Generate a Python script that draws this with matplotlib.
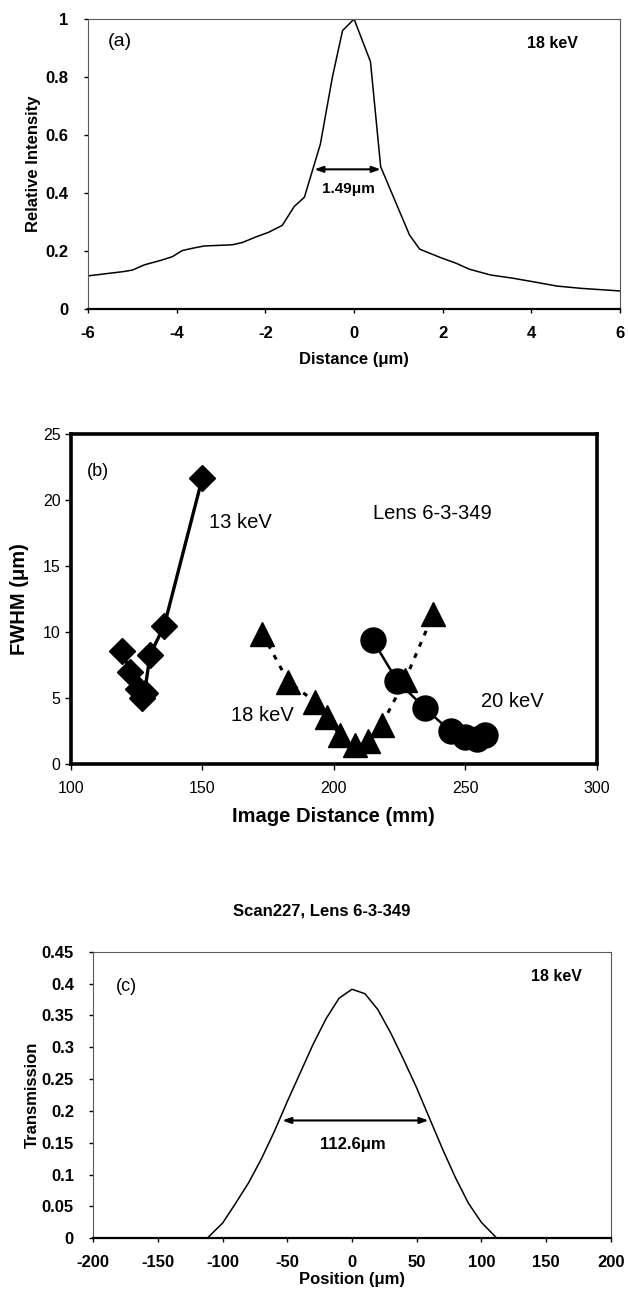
import numpy as np
import matplotlib; matplotlib.use("Agg")
import matplotlib.pyplot as plt

plt.rcParams["font.family"] = ["Liberation Sans", "DejaVu Sans"]
plt.rcParams["axes.unicode_minus"] = False

# (a) spot profile at 18 keV
a_x = [-6, -5.19, -5.0, -4.73, -4.37, -4.1, -3.88, -3.65, -3.38, -2.75, -2.52, -2.2, -1.93, -1.62,
       -1.35, -1.12, -0.76, -0.49, -0.26, 0.0, 0.37, 0.6, 1.25, 1.48, 1.95, 2.31, 2.6, 3.08, 3.58,
       4.03, 4.57, 5.12, 6.0]
a_y = [0.115, 0.13, 0.135, 0.153, 0.168, 0.181, 0.202, 0.21, 0.218, 0.222, 0.23, 0.25, 0.265, 0.289,
       0.354, 0.386, 0.569, 0.799, 0.96, 1.0, 0.853, 0.491, 0.256, 0.207, 0.178, 0.158, 0.138, 0.118,
       0.107, 0.095, 0.08, 0.072, 0.063]
a_xticks = [-6, -4, -2, 0, 2, 4, 6]
a_yticks = [0, 0.2, 0.4, 0.6, 0.8, 1]
a_ylabels = ["0", "0.2", "0.4", "0.6", "0.8", "1"]

# (b) FWHM vs image distance
k13_x = [119.5, 122.5, 125.5, 127.0, 128.0, 130.1, 135.5, 150.0]
k13_y = [8.6, 7.0, 5.7, 5.0, 5.4, 8.3, 10.5, 21.7]
k18_x = [172.8, 182.7, 192.9, 197.3, 202.4, 208.1, 213.1, 218.2, 227.1, 237.9]
k18_y = [9.9, 6.26, 4.74, 3.6, 2.2, 1.5, 1.8, 3.0, 6.4, 11.4]
k20_x = [214.8, 224.2, 234.7, 244.4, 249.8, 254.3, 257.4]
k20_y = [9.4, 6.3, 4.24, 2.5, 2.1, 1.95, 2.25]
b_xticks = [100, 150, 200, 250, 300]
b_yticks = [0, 5, 10, 15, 20, 25]

# (c) transmission scan
c_x = [-200, -112, -100, -90, -80, -70, -60, -50, -40, -30, -20, -10, 0,
       10, 20, 30, 40, 50, 60, 70, 80, 90, 100, 112, 200]
c_y = [0, 0, 0.024, 0.055, 0.087, 0.125, 0.168, 0.215, 0.26, 0.305, 0.345, 0.377, 0.391,
       0.384, 0.359, 0.322, 0.28, 0.236, 0.188, 0.14, 0.095, 0.055, 0.025, 0, 0]
c_xticks = [-200, -150, -100, -50, 0, 50, 100, 150, 200]
c_yticks = [0, 0.05, 0.1, 0.15, 0.2, 0.25, 0.3, 0.35, 0.4, 0.45]
c_ylabels = ["0", "0.05", "0.1", "0.15", "0.2", "0.25", "0.3", "0.35", "0.4", "0.45"]

fig = plt.figure(figsize=(6.28, 13.01), dpi=100)

def thin_frame(ax):
    for s in ("top", "right", "left"):
        ax.spines[s].set_linewidth(0.8); ax.spines[s].set_color("0.35")
    ax.spines["bottom"].set_linewidth(1.6); ax.spines["bottom"].set_color("black")
    ax.tick_params(direction="out", length=3, width=1, labelsize=12)
    ax.tick_params(axis="x", pad=9)
    ax.tick_params(axis="y", pad=11)
    for t in ax.get_xticklabels() + ax.get_yticklabels(): t.set_fontweight("bold")

# ---- (a)
ax = fig.add_axes([0.1403, 0.7623, 0.847, 0.2231])
ax.plot(a_x, a_y, color="black", lw=1.1)
ax.set_xlim(-6, 6); ax.set_ylim(0, 1)
ax.set_xticks(a_xticks); ax.set_xticklabels([str(v) for v in a_xticks])
ax.set_yticks(a_yticks); ax.set_yticklabels(a_ylabels)
thin_frame(ax)
ax.set_xlabel("Distance (\u03bcm)", fontsize=12, fontweight="bold")
ax.set_ylabel("Relative Intensity", fontsize=12, fontweight="bold")
ax.xaxis.set_label_coords(0.5, -0.172); ax.xaxis.label.set_va("center")
ax.yaxis.set_label_coords(-0.102, 0.5); ax.yaxis.label.set_va("center")
ax.annotate("", xy=(-0.895, 0.482), xytext=(0.6, 0.482),
            arrowprops=dict(arrowstyle="<|-|>,head_length=0.5,head_width=0.18", color="black", lw=1.5, shrinkA=0, shrinkB=0))
ax.text(-0.13, 0.413, "1.49\u03bcm", fontsize=11, fontweight="bold", ha="center", va="center")
ax.text(-5.28, 0.922, "(a)", fontsize=14, ha="center", va="center")
ax.text(4.48, 0.916, "18 keV", fontsize=11.5, fontweight="bold", ha="center", va="center")

# ---- (b)
ax = fig.add_axes([0.1129, 0.4125, 0.8373, 0.2537])
ax.plot(k13_x, k13_y, color="black", lw=2.4, marker="D", ms=13, zorder=3)
ax.plot(k18_x, k18_y, color="black", lw=2.2, dashes=(1.6, 2.4), marker="^", ms=17, zorder=3)
ax.plot(k20_x, k20_y, color="black", lw=1.8, marker="o", ms=18, zorder=3)
ax.set_xlim(100, 300); ax.set_ylim(0, 25)
ax.set_xticks(b_xticks); ax.set_yticks(b_yticks)
for s in ax.spines.values():
    s.set_linewidth(2.6); s.set_color("black")
ax.tick_params(direction="out", length=4, width=1, labelsize=11.5)
ax.tick_params(axis="x", pad=8)
ax.set_xlabel("Image Distance (mm)", fontsize=14.5, fontweight="bold")
ax.set_ylabel("FWHM (\u03bcm)", fontsize=14.5, fontweight="bold")
ax.xaxis.set_label_coords(0.5, -0.158); ax.xaxis.label.set_va("center")
ax.yaxis.set_label_coords(-0.0975, 0.5); ax.yaxis.label.set_va("center")
ax.text(110.4, 22.2, "(b)", fontsize=13, ha="center", va="center")
ax.text(164.4, 18.3, "13 keV", fontsize=14.5, ha="center", va="center")
ax.text(237.5, 19.0, "Lens 6-3-349", fontsize=14.5, ha="center", va="center")
ax.text(172.8, 3.7, "18 keV", fontsize=14.5, ha="center", va="center")
ax.text(268.0, 4.75, "20 keV", fontsize=14.5, ha="center", va="center")

# ---- (c)
fig.text(0.513, 0.2998, "Scan227, Lens 6-3-349", fontsize=12, fontweight="bold", ha="center", va="center")
ax = fig.add_axes([0.1486, 0.0482, 0.8239, 0.2203])
ax.plot(c_x, c_y, color="black", lw=1.1)
ax.set_xlim(-200, 200); ax.set_ylim(0, 0.45)
ax.set_xticks(c_xticks); ax.set_xticklabels([str(v) for v in c_xticks])
ax.set_yticks(c_yticks); ax.set_yticklabels(c_ylabels)
thin_frame(ax)
ax.set_xlabel("Position (\u03bcm)", fontsize=12, fontweight="bold")
ax.set_ylabel("Transmission", fontsize=12, fontweight="bold")
ax.xaxis.set_label_coords(0.5, -0.145); ax.xaxis.label.set_va("center")
ax.yaxis.set_label_coords(-0.118, 0.5); ax.yaxis.label.set_va("center")
ax.annotate("", xy=(-53.9, 0.185), xytext=(59.1, 0.185),
            arrowprops=dict(arrowstyle="<|-|>,head_length=0.5,head_width=0.18", color="black", lw=1.5, shrinkA=0, shrinkB=0))
ax.text(0.3, 0.147, "112.6\u03bcm", fontsize=12, fontweight="bold", ha="center", va="center")
ax.text(-174.6, 0.395, "(c)", fontsize=13, ha="center", va="center")
ax.text(158.2, 0.411, "18 keV", fontsize=11.5, fontweight="bold", ha="center", va="center")

fig.savefig("out.png", dpi=100)
